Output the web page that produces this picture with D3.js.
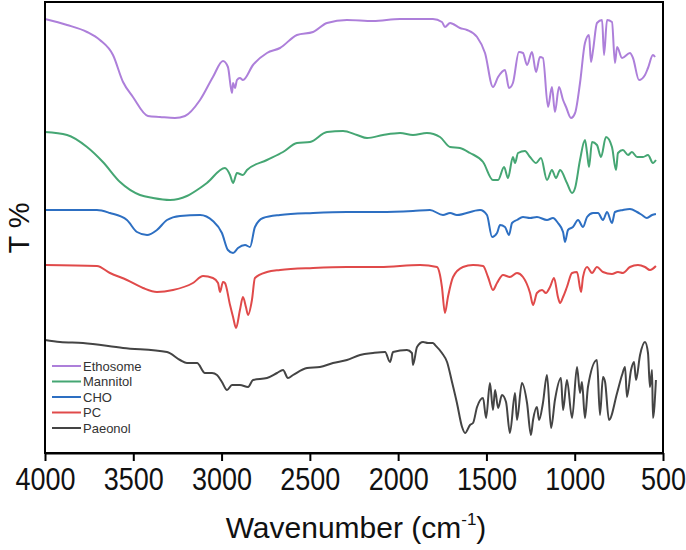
<!DOCTYPE html>
<html><head><meta charset="utf-8">
<script src="https://cdn.jsdelivr.net/npm/d3@7"></script>
<style>body{margin:0;background:#fff}svg{display:block}</style>
</head><body><svg id="c" width="686" height="550"></svg>
<script>
// FTIR spectra: [wavenumber (cm-1), transmittance (arbitrary, offset)]
const ethosome = [[4000,434],[3875,428],[3762,421],[3689,413],[3615,398],[3558,371],[3502,356],[3417,337],[3349,336],[3264,335],[3207,337],[3122,353],[3049,376],[2992,392],[2964,386],[2941,360],[2935,370],[2924,365],[2913,373],[2896,375],[2879,373],[2822,388],[2743,400],[2669,405],[2573,418],[2482,421],[2403,430],[2290,433],[2142,432],[1989,434],[1803,434],[1752,431],[1735,426],[1706,430],[1650,425],[1610,423],[1553,416],[1508,400],[1463,366],[1434,376],[1395,383],[1372,365],[1350,370],[1316,401],[1293,400],[1270,388],[1242,401],[1219,381],[1197,396],[1180,395],[1151,346],[1129,366],[1112,341],[1089,366],[1066,353],[1049,346],[1021,335],[998,340],[970,370],[942,410],[919,418],[908,391],[896,403],[874,430],[845,433],[834,398],[817,433],[789,431],[772,390],[760,406],[732,395],[687,400],[670,395],[636,373],[602,378],[585,385],[557,398],[545,396]];
const mannitol = [[4000,321],[3875,318],[3762,306],[3672,291],[3575,271],[3462,258],[3388,255],[3292,253],[3196,257],[3122,265],[3083,270],[2981,285],[2952,278],[2935,270],[2913,280],[2879,278],[2856,283],[2743,293],[2652,301],[2573,310],[2499,311],[2403,321],[2312,322],[2233,318],[2176,315],[2086,318],[1989,320],[1916,318],[1837,320],[1763,316],[1706,306],[1650,305],[1593,300],[1519,291],[1463,273],[1434,273],[1400,286],[1378,275],[1350,296],[1338,290],[1321,300],[1282,302],[1253,296],[1219,290],[1191,295],[1157,273],[1129,283],[1106,275],[1083,283],[1044,270],[1015,260],[998,265],[970,293],[942,313],[930,300],[919,286],[902,311],[874,308],[851,296],[823,316],[789,306],[766,283],[755,300],[727,303],[698,298],[676,301],[647,296],[613,296],[585,298],[557,290],[540,293]];
const cho = [[4000,243],[3706,243],[3632,240],[3536,233],[3479,221],[3422,218],[3366,223],[3309,233],[3235,237],[3122,238],[3049,232],[2998,220],[2964,203],[2935,200],[2907,205],[2867,208],[2839,206],[2811,226],[2765,235],[2669,238],[2482,240],[2290,241],[2103,241],[1916,242],[1820,243],[1746,238],[1706,240],[1667,238],[1536,243],[1497,238],[1468,216],[1440,220],[1423,228],[1395,226],[1372,218],[1355,230],[1327,233],[1293,236],[1253,235],[1214,236],[1157,233],[1123,235],[1095,230],[1066,221],[1055,211],[1038,223],[1010,226],[981,233],[953,226],[930,236],[896,240],[868,240],[840,233],[817,241],[789,230],[772,241],[727,243],[687,244],[647,241],[619,238],[591,235],[562,238],[540,239]];
const pc = [[4000,188],[3706,187],[3632,180],[3536,173],[3445,165],[3366,161],[3275,163],[3162,170],[3105,177],[3049,175],[3020,170],[3009,161],[2992,171],[2981,170],[2952,148],[2935,136],[2918,125],[2896,143],[2879,156],[2862,146],[2850,138],[2828,153],[2811,175],[2743,181],[2669,183],[2482,185],[2290,186],[2103,186],[1876,188],[1780,186],[1763,178],[1752,166],[1735,140],[1718,156],[1689,176],[1633,186],[1576,188],[1519,187],[1491,176],[1463,163],[1440,170],[1406,178],[1367,176],[1327,180],[1293,176],[1253,160],[1236,148],[1214,160],[1185,163],[1163,160],[1140,166],[1117,175],[1095,156],[1083,150],[1066,156],[1044,166],[1015,180],[987,181],[964,161],[953,176],[930,186],[902,180],[874,186],[840,181],[789,179],[755,181],[727,180],[687,186],[642,188],[602,186],[574,183],[540,187]];
const paeonol = [[4000,113],[3915,111],[3785,110],[3558,105],[3309,101],[3235,93],[3196,90],[3139,90],[3094,80],[3054,80],[3026,78],[2998,71],[2969,63],[2941,68],[2896,68],[2850,66],[2822,73],[2743,75],[2686,80],[2652,83],[2624,75],[2595,78],[2516,85],[2443,86],[2369,90],[2290,93],[2216,98],[2142,100],[2074,101],[2046,91],[2029,101],[1950,103],[1922,100],[1916,88],[1893,106],[1859,111],[1831,110],[1803,110],[1791,108],[1752,100],[1723,91],[1695,71],[1667,50],[1638,26],[1621,20],[1593,28],[1576,30],[1553,46],[1519,55],[1502,35],[1480,70],[1463,43],[1451,63],[1434,45],[1412,58],[1389,51],[1367,20],[1338,60],[1327,33],[1299,70],[1270,50],[1248,18],[1236,33],[1214,46],[1202,33],[1180,50],[1157,78],[1134,25],[1112,53],[1078,75],[1066,43],[1044,73],[1015,35],[987,86],[970,60],[959,71],[942,35],[925,66],[874,93],[857,38],[840,76],[828,71],[806,33],[760,60],[732,78],[715,86],[704,56],[681,83],[664,91],[653,73],[630,98],[602,111],[585,100],[574,66],[562,83],[557,35],[540,73]];

const seriesNames = ["Ethosome","Mannitol","CHO","PC","Paeonol"];
const seriesData = [ethosome, mannitol, cho, pc, paeonol];
const seriesColors = ["#ad7fda","#45a673","#2d6fc2","#e04a4a","#444444"];
const xTicks = [4000,3500,3000,2500,2000,1500,1000,500];

const FONT = "Liberation Sans, Arial, sans-serif";
const svg = d3.select("#c");
const L = 45, R = 663, T = 2, B = 453;
const x = d3.scaleLinear().domain([4000,500]).range([L,R]);
const y = d3.scaleLinear().domain([0,451]).range([B,T]);

const line = d3.line().x(d => x(d[0])).y(d => y(d[1])).curve(d3.curveMonotoneX);
svg.append("g").selectAll("path").data(seriesData).join("path")
  .attr("d", line).attr("fill","none")
  .attr("stroke",(d,i)=>seriesColors[i]).attr("stroke-width",2)
  .attr("stroke-linejoin","round");

// frame
svg.append("rect").attr("x",L).attr("y",T).attr("width",R-L).attr("height",B-T)
  .attr("fill","none").attr("stroke","#000").attr("stroke-width",2);

const xAxis = svg.append("g").attr("transform",`translate(0,${B})`)
  .call(d3.axisBottom(x).tickValues(xTicks).tickFormat(d3.format("d"))
    .tickSize(8).tickSizeOuter(0).tickPadding(11));
xAxis.select(".domain").attr("stroke-width",2);
xAxis.selectAll(".tick line").attr("stroke-width",2);
xAxis.selectAll(".tick text").attr("font-family",FONT)
  .attr("font-size",27).attr("fill","#111")
  .attr("y",0).attr("dy",0).attr("transform","translate(0,37) scale(1,1.15)");

// axis titles
const title = svg.append("text").attr("x",356).attr("y",538).attr("text-anchor","middle")
  .attr("font-family",FONT).attr("font-size",30).attr("fill","#111");
title.append("tspan").text("Wavenumber (cm");
title.append("tspan").attr("font-size",17).attr("dy",-13).text("-1");
title.append("tspan").attr("dy",13).text(")");

svg.append("text").attr("transform","translate(29,228) rotate(-90)").attr("text-anchor","middle")
  .attr("font-family",FONT).attr("font-size",29).attr("fill","#111")
  .text("T %");

// legend
const lg = svg.append("g");
seriesNames.forEach((n,i)=>{
  const yy = 366 + i*15.5;
  lg.append("line").attr("x1",52).attr("x2",81).attr("y1",yy).attr("y2",yy)
    .attr("stroke",seriesColors[i]).attr("stroke-width",2);
  lg.append("text").attr("x",83).attr("y",yy+4.5).attr("font-family",FONT)
    .attr("font-size",13).attr("fill","#333").text(n);
});
</script></body></html>
